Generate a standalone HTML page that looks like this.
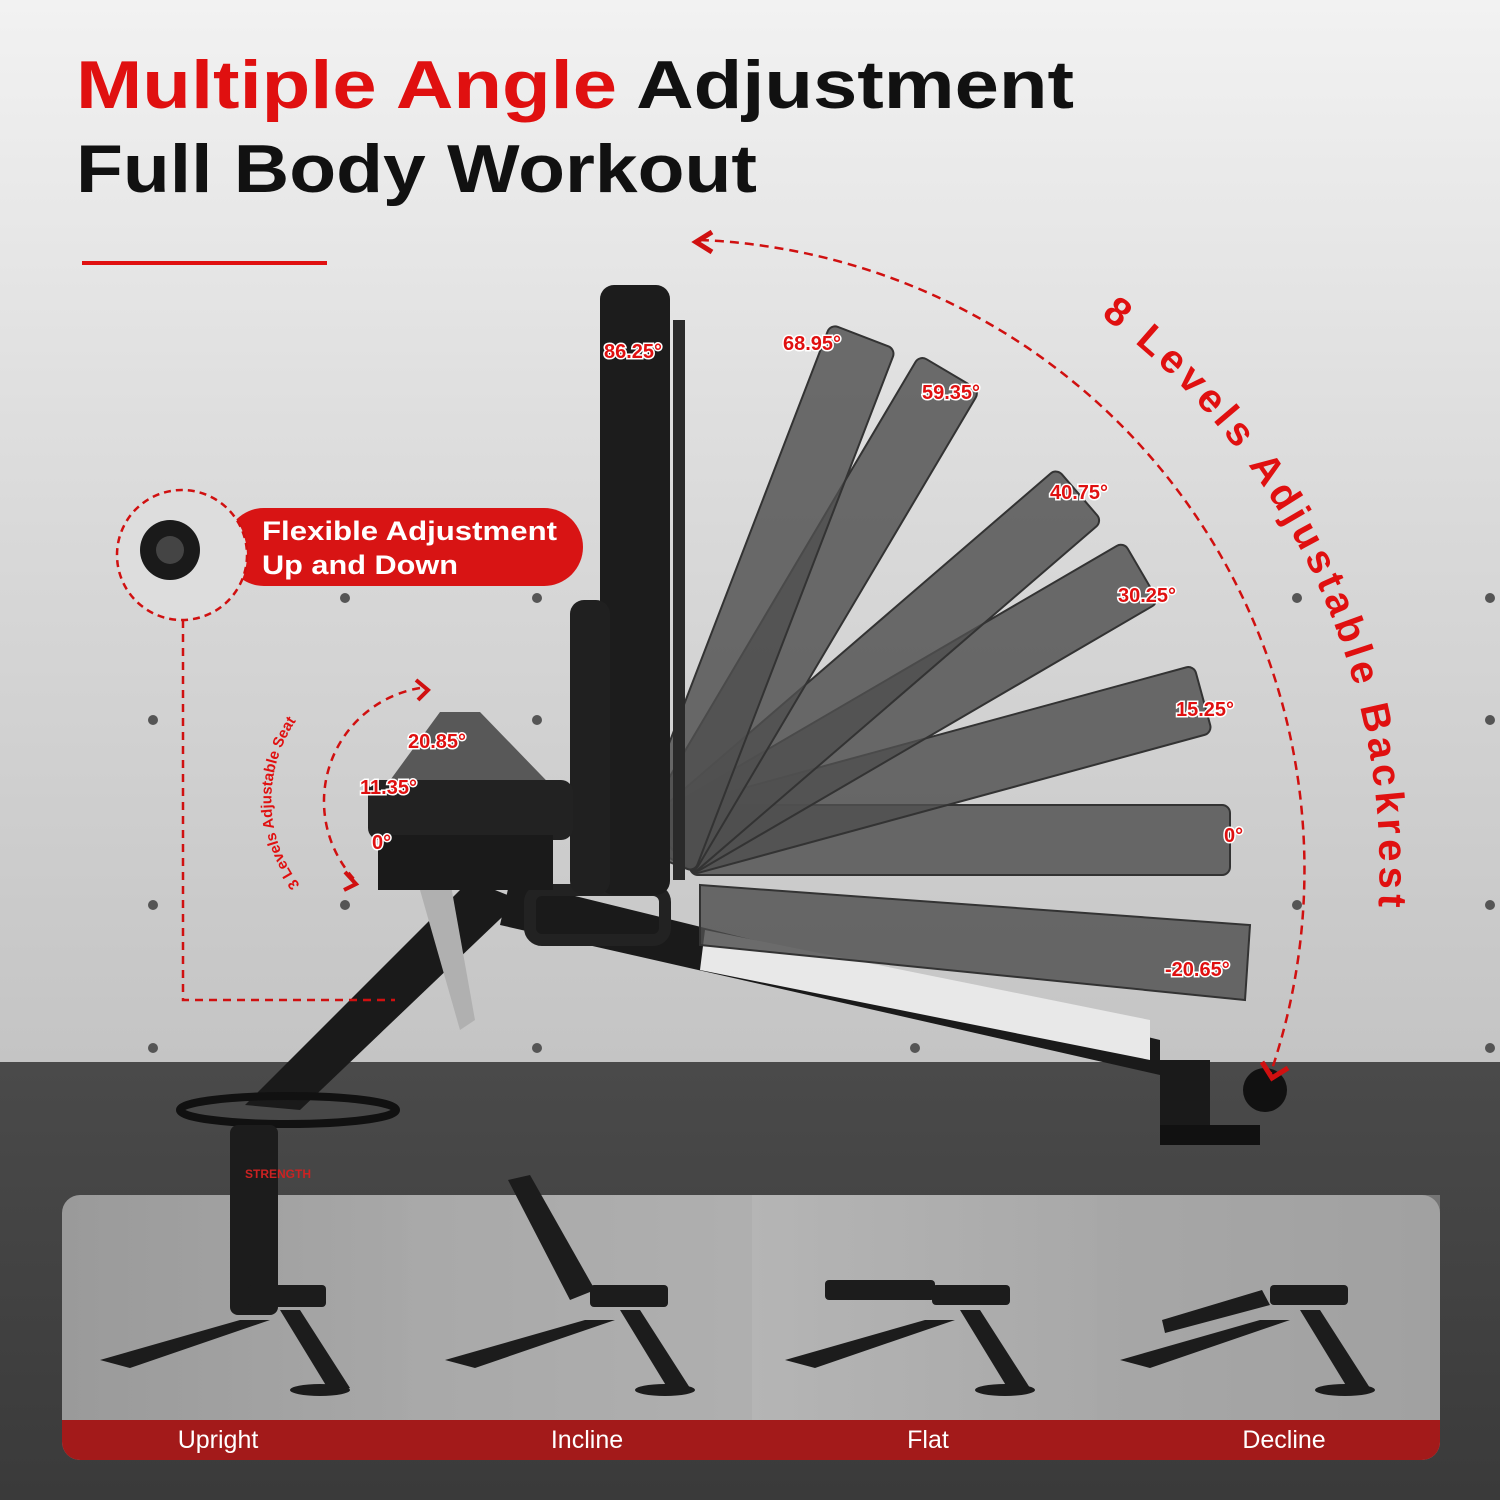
<!DOCTYPE html>
<html><head><meta charset="utf-8"><style>
html,body{margin:0;padding:0;width:1500px;height:1500px;overflow:hidden}
svg{display:block}
</style></head><body>
<svg width="1500" height="1500" viewBox="0 0 1500 1500" xmlns="http://www.w3.org/2000/svg" font-family="Liberation Sans, sans-serif">
<defs>
<linearGradient id="wall" x1="0" y1="0" x2="0" y2="1">
<stop offset="0" stop-color="#f2f2f2"/><stop offset="0.5" stop-color="#d9d9d9"/><stop offset="1" stop-color="#c4c4c4"/>
</linearGradient>
<linearGradient id="floor" x1="0" y1="0" x2="0" y2="1">
<stop offset="0" stop-color="#4a4a4a"/><stop offset="1" stop-color="#3a3a3a"/>
</linearGradient>
<linearGradient id="panel" x1="0" y1="0" x2="1" y2="0">
<stop offset="0" stop-color="#9a9a9a"/><stop offset="0.5" stop-color="#b5b5b5"/><stop offset="1" stop-color="#9c9c9c"/>
</linearGradient>
</defs>
<rect width="1500" height="1065" fill="url(#wall)"/>
<rect y="1062" width="1500" height="438" fill="url(#floor)"/>
<g fill="#555">
<circle cx="153" cy="720" r="5"/><circle cx="153" cy="905" r="5"/><circle cx="153" cy="1048" r="5"/>
<circle cx="345" cy="598" r="5"/><circle cx="345" cy="905" r="5"/><circle cx="345" cy="1048" r="5"/>
<circle cx="537" cy="598" r="5"/><circle cx="537" cy="720" r="5"/><circle cx="537" cy="1048" r="5"/>
<circle cx="1297" cy="598" r="5"/><circle cx="1297" cy="905" r="5"/><circle cx="1490" cy="598" r="5"/><circle cx="1490" cy="720" r="5"/><circle cx="1490" cy="905" r="5"/><circle cx="1490" cy="1048" r="5"/><circle cx="1100" cy="1048" r="5"/><circle cx="915" cy="1048" r="5"/>
</g>
<text x="76" y="108" font-size="68" font-weight="bold" fill="#e01010" textLength="998" lengthAdjust="spacingAndGlyphs">Multiple Angle <tspan fill="#111">Adjustment</tspan></text>
<text x="76" y="192" font-size="68" font-weight="bold" fill="#111" textLength="681" lengthAdjust="spacingAndGlyphs">Full Body Workout</text>
<rect x="82" y="261" width="245" height="4" fill="#e01010"/>

<polygon points="245,1105 470,880 520,900 300,1110" fill="#1a1a1a"/>
<polygon points="510,880 1160,1040 1160,1075 500,925" fill="#1a1a1a"/>
<polygon points="705,930 1150,1020 1150,1060 700,970" fill="#e8e8e8"/>
<ellipse cx="288" cy="1110" rx="108" ry="14" fill="none" stroke="#111" stroke-width="8"/>
<rect x="1160" y="1060" width="50" height="75" fill="#1a1a1a"/>
<rect x="1160" y="1125" width="100" height="20" fill="#111"/>
<circle cx="1265" cy="1090" r="22" fill="#111"/>
<polygon points="420,890 450,880 475,1020 460,1030" fill="#b0b0b0"/>
<rect x="530" y="890" width="135" height="50" rx="12" fill="none" stroke="#222" stroke-width="12"/>

<g fill="#4f4f4f" fill-opacity="0.82" stroke="#333" stroke-width="2">
<polygon points="700,885 1250,925 1245,1000 700,945"/>
<rect x="690" y="-65" width="540" height="70" rx="8" transform="translate(0,870)"/>
<rect x="690" y="-65" width="540" height="70" rx="8" transform="rotate(-15.25 690 870) translate(0,870)"/>
<rect x="690" y="-65" width="540" height="70" rx="8" transform="rotate(-30.25 690 870) translate(0,870)"/>
<rect x="690" y="-65" width="540" height="70" rx="8" transform="rotate(-40.75 690 870) translate(0,870)"/>
<rect x="690" y="-65" width="560" height="70" rx="8" transform="rotate(-59.35 690 870) translate(0,870)"/>
<rect x="690" y="-65" width="560" height="70" rx="8" transform="rotate(-68.95 690 870) translate(0,870)"/>
</g>
<rect x="600" y="285" width="70" height="610" rx="14" fill="#1c1c1c"/>
<rect x="570" y="600" width="40" height="295" rx="14" fill="#202020"/>
<rect x="673" y="320" width="12" height="560" fill="#2a2a2a"/>
<polygon points="372,805 440,712 480,712 570,805" fill="#3a3a3a" opacity="0.8"/>
<rect x="368" y="780" width="205" height="60" rx="12" fill="#222"/>
<rect x="378" y="835" width="175" height="55" fill="#1a1a1a"/>

<g font-size="20" font-weight="bold" fill="#e01010" stroke="#fff" stroke-width="3" paint-order="stroke">
<text x="604" y="358">86.25°</text><text x="783" y="350">68.95°</text><text x="922" y="399">59.35°</text>
<text x="1050" y="499">40.75°</text><text x="1118" y="602">30.25°</text><text x="1176" y="716">15.25°</text>
<text x="1224" y="842">0°</text><text x="1165" y="976">-20.65°</text>
<text x="408" y="748">20.85°</text><text x="360" y="794">11.35°</text><text x="372" y="849">0°</text>
</g>

<path d="M 700 240 A 630 630 0 0 1 1270 1075" fill="none" stroke="#d01010" stroke-width="2.5" stroke-dasharray="9 6"/>
<path d="M712 232 L696 242 L712 252" fill="none" stroke="#d01010" stroke-width="5"/>
<path d="M1262 1062 L1272 1078 L1288 1068" fill="none" stroke="#d01010" stroke-width="5"/>
<path id="txtarc" d="M 690 180 A 690 690 0 0 1 1369 990" fill="none"/>
<text font-size="40" font-weight="bold" fill="#e01010"><textPath href="#txtarc" startOffset="440" textLength="680" lengthAdjust="spacing">8 Levels Adjustable Backrest</textPath></text>

<path d="M 420 688 A 115 115 0 0 0 355 880" fill="none" stroke="#d01010" stroke-width="2.5" stroke-dasharray="8 6"/>
<path d="M416 680 L428 690 L418 700" fill="none" stroke="#d01010" stroke-width="4"/>
<path d="M345 872 L356 884 L344 890" fill="none" stroke="#d01010" stroke-width="4"/>
<path id="seatarc" d="M 300 885 A 140 140 0 0 1 360 670" fill="none"/>
<text font-size="15" font-weight="bold" fill="#e01010"><textPath href="#seatarc">3 Levels Adjustable Seat</textPath></text>

<path d="M 183 620 L 183 1000 L 395 1000" fill="none" stroke="#d01010" stroke-width="2.5" stroke-dasharray="8 6"/>
<rect x="225" y="508" width="358" height="78" rx="39" fill="#d81414"/>
<circle cx="182" cy="555" r="65" fill="#ddd" stroke="#d01010" stroke-width="2.5" stroke-dasharray="7 5"/>
<circle cx="170" cy="550" r="30" fill="#1a1a1a"/><circle cx="170" cy="550" r="14" fill="#444"/>
<text x="262" y="540" font-size="27" font-weight="bold" fill="#fff" textLength="295" lengthAdjust="spacingAndGlyphs">Flexible Adjustment</text>
<text x="262" y="574" font-size="27" font-weight="bold" fill="#fff" textLength="196" lengthAdjust="spacingAndGlyphs">Up and Down</text>

<rect x="62" y="1195" width="1378" height="265" rx="18" fill="url(#panel)"/>
<rect x="406" y="1195" width="346" height="225" fill="#aaa" opacity="0.5"/>
<rect x="1097" y="1195" width="343" height="225" fill="#a6a6a6" opacity="0.5"/>
<path d="M62 1420 H1440 V1442 A18 18 0 0 1 1422 1460 H80 A18 18 0 0 1 62 1442 Z" fill="#a31a1a"/>
<g font-size="25" fill="#fff" text-anchor="middle">
<text x="218" y="1448">Upright</text><text x="587" y="1448">Incline</text><text x="928" y="1448">Flat</text><text x="1284" y="1448">Decline</text>
</g>
<g fill="#1c1c1c">
<rect x="230" y="1125" width="48" height="190" rx="8"/>
<rect x="248" y="1285" width="78" height="22" rx="4"/>
<polygon points="100,1360 240,1320 270,1320 130,1368"/>
<polygon points="280,1310 300,1310 350,1388 330,1392"/>
<ellipse cx="320" cy="1390" rx="30" ry="6"/>
<polygon points="508,1180 530,1175 595,1290 570,1300"/>
<rect x="590" y="1285" width="78" height="22" rx="4"/>
<polygon points="445,1360 585,1320 615,1320 475,1368"/>
<polygon points="620,1310 640,1310 690,1388 670,1392"/>
<ellipse cx="665" cy="1390" rx="30" ry="6"/>
<rect x="825" y="1280" width="110" height="20" rx="4"/><rect x="932" y="1285" width="78" height="20" rx="4"/>
<polygon points="785,1360 925,1320 955,1320 815,1368"/>
<polygon points="960,1310 980,1310 1030,1388 1010,1392"/>
<ellipse cx="1005" cy="1390" rx="30" ry="6"/>
<polygon points="1162,1320 1262,1290 1270,1305 1165,1333"/><rect x="1270" y="1285" width="78" height="20" rx="4"/>
<polygon points="1120,1360 1260,1320 1290,1320 1150,1368"/>
<polygon points="1300,1310 1320,1310 1370,1388 1350,1392"/>
<ellipse cx="1345" cy="1390" rx="30" ry="6"/>
</g>
<text x="245" y="1178" font-size="12" font-weight="bold" fill="#c22">STRENGTH</text>
</svg>
</body></html>
